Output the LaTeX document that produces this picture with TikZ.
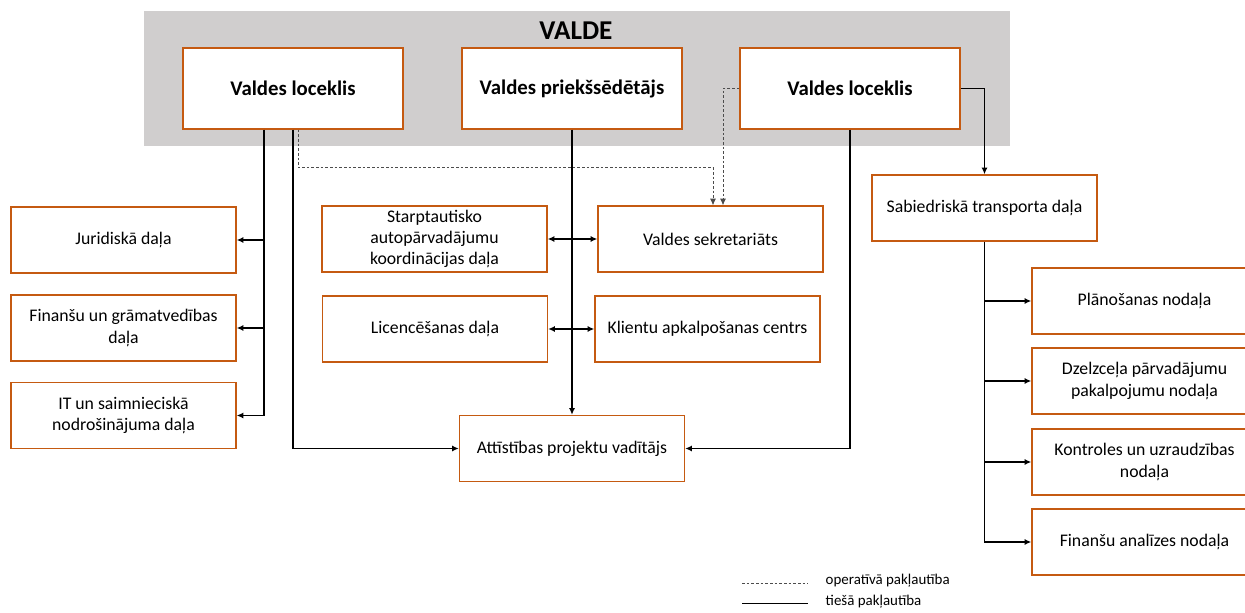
\documentclass[tikz,border=0pt]{standalone}
\usepackage{fontspec}
\setmainfont{Carlito}
\usetikzlibrary{calc,arrows.meta}
\definecolor{valdegray}{RGB}{208,206,206}
\definecolor{boxorange}{RGB}{197,90,17}
\tikzset{
  box/.style={draw=boxorange,line width=1pt,fill=white,align=center,minimum width=168.75pt,minimum height=49.5pt,inner sep=2pt,font=\fontsize{13.3}{16}\selectfont},
  topbox/.style={box,minimum width=165pt,minimum height=60.75pt,font=\fontsize{15.6}{18}\selectfont\bfseries},
  link/.style={line width=1pt},
  oplink/.style={dash pattern=on 2pt off 1.5pt,line width=0.6pt,black!70}
}
\begin{document}
\begin{tikzpicture}[x=0.75pt,y=-0.75pt,>={Latex[length=5pt,width=4.5pt]}]
          \useasboundingbox (0,0) rectangle (1245,613);
          \fill[valdegray] (144,11) rectangle (1010,146);
          \node[font=\fontsize{20.4}{24}\selectfont\bfseries] (valde) at (576,31) {VALDE};
          \node[topbox] (vl1) at (293,88.5) {Valdes loceklis};
          \node[topbox] (vp) at (572,88.5) {Valdes priekšsēdētājs};
          \node[topbox] (vl3) at (850,88.5) {Valdes loceklis};
          \node[box] (jur) at (123.5,240) {Juridiskā daļa};
          \node[box] (fin) at (123.5,328) {Finanšu un grāmatvedības\\daļa};
          \node[box] (it) at (123.5,415.5) {IT un saimnieciskā\\nodrošinājuma daļa};
          \node[box] (star) at (434.5,239) {Starptautisko\\autopārvadājumu\\koordinācijas daļa};
          \node[box] (sekr) at (710.5,239) {Valdes sekretariāts};
          \node[box] (lic) at (435,329) {Licencēšanas daļa};
          \node[box] (kli) at (707.5,329) {Klientu apkalpošanas centrs};
          \node[box] (att) at (572,448.5) {Attīstības projektu vadītājs};
          \node[box] (sab) at (984.5,208) {Sabiedriskā transporta daļa};
          \node[box] (pla) at (1144.5,301) {Plānošanas nodaļa};
          \node[box] (dze) at (1144.5,381) {Dzelzceļa pārvadājumu\\pakalpojumu nodaļa};
          \node[box] (kon) at (1144.5,462) {Kontroles un uzraudzības\\nodaļa};
          \node[box] (fan) at (1144.5,542) {Finanšu analīzes nodaļa};
          \coordinate (vl1a) at ($(vl1.south)+(-29,0)$);
          \coordinate (vl1b) at ($(vl1.south)+(5,0)$);
          \draw[link,->] (vl1a) |- (it.east);
          \draw[link,->] (vl1a |- jur.east) -- (jur.east);
          \draw[link,->] (vl1a |- fin.east) -- (fin.east);
          \draw[link,->] (vl1.south) |- (att.west);
          \draw[link,->] (vp.south) -- (att.north);
          \draw[link,<->] (star.east) -- (sekr.west);
          \draw[link,<->] (lic.east) -- (kli.west);
          \draw[link,->] (vl3.south) |- (att.east);
          \draw[link,->] (vl3.east) -| (sab.north);
          \draw[link,->] (sab.south) |- (fan.west);
          \draw[link,->] (sab.south |- pla.west) -- (pla.west);
          \draw[link,->] (sab.south |- dze.west) -- (dze.west);
          \draw[link,->] (sab.south |- kon.west) -- (kon.west);
          \draw[oplink,->] (vl1b) -- ++(0,38) -| ($(sekr.north)+(2.5,0)$);
          \draw[oplink,->] (vl3.west) -| ($(sekr.north)+(12.5,0)$);
          \coordinate (opa) at (742,583);
          \coordinate (opb) at (808,583);
          \coordinate (tia) at (742,603);
          \coordinate (tib) at (808,603);
          \draw[oplink] (opa) -- (opb);
          \draw[line width=0.6pt] (tia) -- (tib);
          \node[anchor=west,font=\fontsize{11.2}{13}\selectfont] (optxt) at (821,581) {operatīvā pakļautība};
          \node[anchor=west,font=\fontsize{11.2}{13}\selectfont] (titxt) at (821,602) {tiešā pakļautība};
        \end{tikzpicture}
\end{document}
